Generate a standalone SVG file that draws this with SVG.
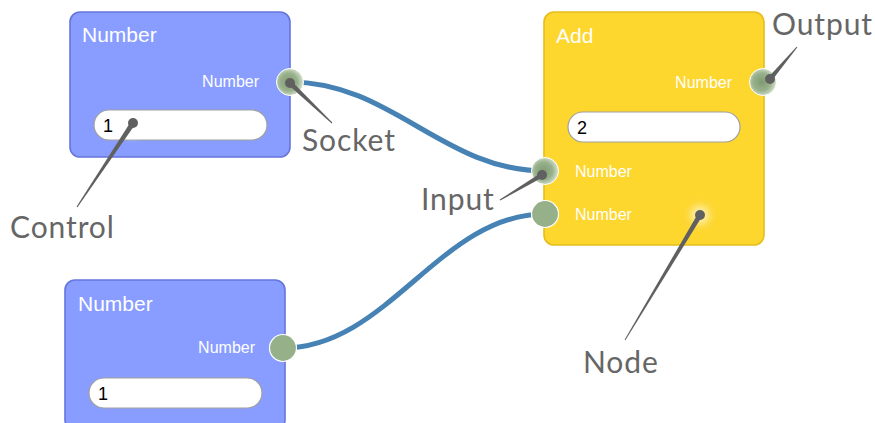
<svg xmlns="http://www.w3.org/2000/svg" width="875" height="423" viewBox="0 0 875 423">
<style>
.nb{fill:#889dff;stroke:#6675dc;stroke-width:1.6}
.ny{fill:#fdd62e;stroke:#e6bd1e;stroke-width:1.6}
.title{font-family:"Liberation Sans",Arial,sans-serif;font-size:21px;fill:#fff}
.lbl{font-family:"Liberation Sans",Arial,sans-serif;font-size:16px;fill:#fff}
.pill{fill:#fff;stroke:#a0a0a0;stroke-width:1.2}
.val{font-family:"Liberation Sans",Arial,sans-serif;font-size:18px;fill:#000}
.sock{fill:#96b08a;stroke:#fff;stroke-width:1.2}
.sockh{fill:url(#sg);stroke:#fff;stroke-width:1}
.conn{fill:none;stroke:#4682b4;stroke-width:5}
.ann{font-family:Lato,"Open Sans",sans-serif;font-size:30px;fill:#666;letter-spacing:0.9px}
.pin{fill:#606060}
.glow{fill:#fff;opacity:0.7;filter:url(#blur)}
</style>
<defs>
<radialGradient id="sg" cx="0.45" cy="0.5" r="0.55">
<stop offset="0" stop-color="#7f9a72"/>
<stop offset="0.6" stop-color="#99b28d"/>
<stop offset="1" stop-color="#d8e4d0"/>
</radialGradient>
<filter id="blur" x="-1" y="-1" width="3" height="3"><feGaussianBlur stdDeviation="4"/></filter>
</defs>
<g id="connectors">
<path class="conn" d="M290,82 C392,82 443,171 545,171"/>
<path class="conn" d="M283,348 C388,348 440,214 545,214"/>
</g>
<g id="node-number-1">
<rect class="nb" x="70" y="12" width="220" height="145" rx="10"/>
<text class="title" x="82" y="42">Number</text>
<text class="lbl" x="259" y="87" text-anchor="end">Number</text>
<rect class="pill" x="94" y="110" width="173" height="30" rx="15"/>
<text class="val" x="103" y="132">1</text>
<circle class="sockh" cx="290" cy="82" r="13.5"/>
</g>
<g id="node-number-2">
<rect class="nb" x="65" y="280" width="220" height="150" rx="10"/>
<text class="title" x="78" y="311">Number</text>
<text class="lbl" x="255" y="353" text-anchor="end">Number</text>
<rect class="pill" x="89" y="378" width="173" height="30" rx="15"/>
<text class="val" x="98" y="400">1</text>
<circle class="sock" cx="283" cy="348" r="13.5"/>
</g>
<g id="node-add">
<rect class="ny" x="544" y="12" width="220" height="233" rx="10"/>
<text class="title" x="556" y="43">Add</text>
<text class="lbl" x="732" y="88" text-anchor="end">Number</text>
<rect class="pill" x="568" y="112" width="172" height="30" rx="15"/>
<text class="val" x="577" y="134">2</text>
<text class="lbl" x="575" y="177">Number</text>
<text class="lbl" x="575" y="220">Number</text>
<circle class="sockh" cx="763" cy="82" r="13.5"/>
<circle class="sockh" cx="545" cy="171" r="13.5"/>
<circle class="sock" cx="545" cy="214" r="13.5"/>
</g>
<g id="annotations">
<circle class="glow" cx="133" cy="127" r="9"/>
<circle class="glow" cx="700" cy="215" r="9"/>
<polygon class="pin" points="288.3,84.8 291.7,81.2 332.3,122.6 331.7,123.4"/>
<circle class="pin" cx="290" cy="83" r="5"/>
<text class="ann" x="302" y="151">Socket</text>
<polygon class="pin" points="130.9,121.6 135.1,124.4 77.5,207.3 76.5,206.7"/>
<circle class="pin" cx="133" cy="123" r="5"/>
<text class="ann" x="10" y="238">Control</text>
<polygon class="pin" points="540.7,172.9 543.3,177.1 500.3,200.4 499.7,199.6"/>
<circle class="pin" cx="542" cy="175" r="5"/>
<text class="ann" x="421" y="210">Input</text>
<polygon class="pin" points="697.9,213.7 702.1,216.3 625.4,340.3 624.6,339.7"/>
<circle class="pin" cx="700" cy="215" r="5"/>
<text class="ann" x="583" y="373">Node</text>
<polygon class="pin" points="771.9,80.6 768.1,77.4 796.6,46.7 797.4,47.3"/>
<circle class="pin" cx="770" cy="79" r="5"/>
<text class="ann" x="772" y="35">Output</text>
</g>
</svg>
